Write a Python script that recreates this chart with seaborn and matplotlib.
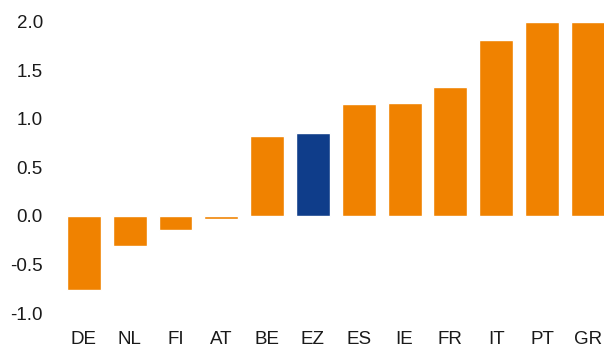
import matplotlib
matplotlib.use("Agg")
import matplotlib.pyplot as plt
import seaborn as sns
import pandas as pd

countries = ["DE", "NL", "FI", "AT", "BE", "EZ", "ES", "IE", "FR", "IT", "PT", "GR"]
values = [-0.76, -0.31, -0.14, -0.03, 0.82, 0.86, 1.15, 1.17, 1.33, 1.81, 2.0, 2.0]
highlight = "EZ"

orange = "#F08200"
blue = "#0F3D8A"

sns.set_theme(style="white")
plt.rcParams["font.family"] = ["Liberation Sans", "DejaVu Sans"]

df = pd.DataFrame({"country": countries, "value": values})
palette = {c: (blue if c == highlight else orange) for c in countries}

W, H = 604, 347
fig = plt.figure(figsize=(W / 100, H / 100), dpi=100)
left_px, right_px, top_px, bottom_px = 61, 604, 22, 313
ax = fig.add_axes([left_px / W, 1 - bottom_px / H,
                   (right_px - left_px) / W, (bottom_px - top_px) / H])

sns.barplot(data=df, x="country", y="value", hue="country", palette=palette,
            order=countries, width=0.74, saturation=1, legend=False, ax=ax)

ax.set_ylim(-1.0, 2.0)
ax.set_xlim(-0.5, (604 - 84) / 45.8)
ax.set_yticks([-1.0, -0.5, 0.0, 0.5, 1.0, 1.5, 2.0])
ax.set_yticklabels(["-1.0", "-0.5", "0.0", "0.5", "1.0", "1.5", "2.0"])
ax.set_xlabel("")
ax.set_ylabel("")
ax.tick_params(axis="y", length=0, pad=13, labelsize=13.5, labelcolor="#1a1a1a")
ax.tick_params(axis="x", length=0, pad=13, labelsize=13.5, labelcolor="#1a1a1a")
for s in ax.spines.values():
    s.set_visible(False)
ax.patch.set_alpha(0)

fig.savefig("out.png", dpi=100)
